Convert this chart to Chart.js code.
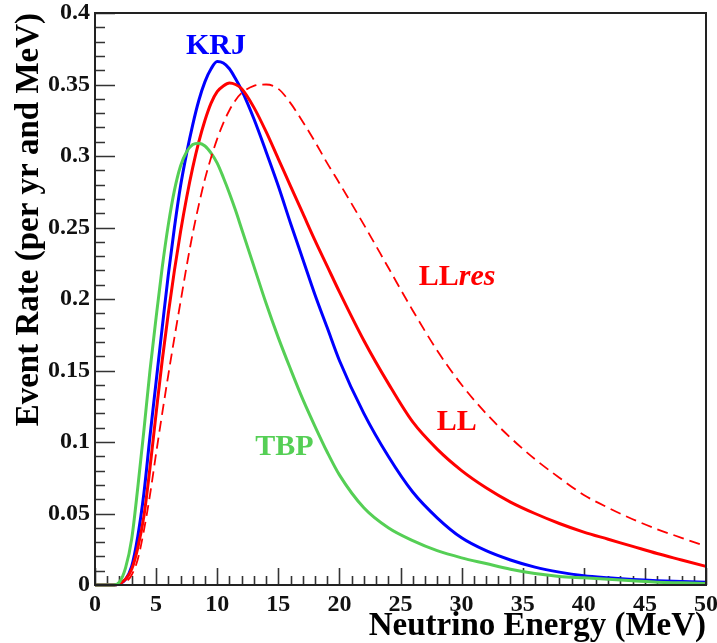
<!DOCTYPE html>
<html>
<head>
<meta charset="utf-8">
<script src="https://cdn.jsdelivr.net/npm/chart.js@4.4.0/dist/chart.umd.min.js"></script>
<style>
html, body { margin: 0; padding: 0; background: #fff; }
</style>
</head>
<body>
<canvas id="myChart" width="717" height="643"></canvas>
<script>
// energies (MeV) and event rates
const energy = [0, 1, 1.5, 2, 2.5, 3, 3.5, 4, 4.5, 5, 5.5, 6, 6.5, 7, 7.5, 8, 8.5, 9, 9.5, 10,
    10.5, 11, 11.5, 12, 13, 14, 15, 16, 17, 18, 19, 20, 22, 24, 26, 28, 30, 32, 34, 36, 38, 40,
    42, 44, 46, 48, 50];
const tbp = [0, 0, 0, 0.002, 0.012, 0.032, 0.068, 0.108, 0.15, 0.187, 0.222, 0.252, 0.276, 0.293,
    0.303, 0.308, 0.309, 0.307, 0.302, 0.295, 0.285, 0.274, 0.262, 0.249, 0.223, 0.197, 0.173, 0.151,
    0.13, 0.111, 0.093, 0.077, 0.054, 0.04, 0.031, 0.024, 0.019, 0.015, 0.011, 0.008, 0.006, 0.005,
    0.004, 0.003, 0.002, 0.0015, 0.001];
const krj = [0, 0, 0, 0.001, 0.004, 0.013, 0.034, 0.064, 0.104, 0.142, 0.18, 0.217, 0.25, 0.279,
    0.302, 0.322, 0.339, 0.352, 0.361, 0.366, 0.365, 0.361, 0.354, 0.346, 0.326, 0.303, 0.279, 0.253,
    0.228, 0.203, 0.18, 0.157, 0.12, 0.09, 0.065, 0.047, 0.033, 0.024, 0.0175, 0.0125, 0.009, 0.0065,
    0.005, 0.0038, 0.003, 0.0025, 0.002];
const ll = [0, 0, 0, 0.001, 0.004, 0.011, 0.026, 0.048, 0.082, 0.12, 0.157, 0.19, 0.22, 0.247,
    0.271, 0.292, 0.31, 0.325, 0.337, 0.345, 0.349, 0.351, 0.35, 0.347, 0.334, 0.317, 0.298, 0.279,
    0.26, 0.241, 0.223, 0.205, 0.171, 0.141, 0.114, 0.095, 0.08, 0.068, 0.058, 0.05, 0.043, 0.037,
    0.032, 0.027, 0.022, 0.0175, 0.013];
const llres = [0, 0, 0, 0, 0.002, 0.007, 0.018, 0.038, 0.063, 0.092, 0.12, 0.147, 0.173, 0.198,
    0.223, 0.246, 0.266, 0.284, 0.299, 0.312, 0.323, 0.332, 0.339, 0.344, 0.349, 0.35, 0.347, 0.337,
    0.324, 0.31, 0.295, 0.281, 0.252, 0.222, 0.192, 0.164, 0.14, 0.12, 0.103, 0.088, 0.075, 0.063,
    0.054, 0.046, 0.039, 0.033, 0.027];

const xTicks = [0, 5, 10, 15, 20, 25, 30, 35, 40, 45, 50];
const yTicks = [0, 0.05, 0.1, 0.15, 0.2, 0.25, 0.3, 0.35, 0.4];

function pts(values) {
    return energy.map(function (e, i) { return { x: e, y: values[i] } });
}

const green = "#55cf55";
const blue = "#0000ff";
const red = "#ff0000";
const serif = "'Liberation Serif', 'Times New Roman', serif";

// ROOT style frame with inward ticks
const rootFrame = {
    id: "rootFrame",
    beforeDatasetsDraw(chart) {
        const { ctx, chartArea: a, scales: { x, y } } = chart;
        ctx.save();
        ctx.strokeStyle = "#333";
        ctx.lineWidth = 1.6;
        ctx.beginPath();
        for (let i = 0; i <= 50; i++) {
            const px = Math.round(x.getPixelForValue(i)) + 0.5;
            const len = i % 5 === 0 ? 17 : 9;
            ctx.moveTo(px, a.bottom);
            ctx.lineTo(px, a.bottom - len);
        }
        for (let i = 0; i <= 40; i++) {
            const py = Math.round(y.getPixelForValue(i / 100)) + 0.5;
            const len = i % 5 === 0 ? 20 : 10;
            ctx.moveTo(a.left, py);
            ctx.lineTo(a.left + len, py);
        }
        ctx.stroke();
        ctx.restore();
    },
    afterDatasetsDraw(chart) {
        const { ctx, chartArea: a } = chart;
        ctx.save();
        ctx.strokeStyle = "#222";
        ctx.lineWidth = 2;
        ctx.strokeRect(a.left, a.top, a.right - a.left, a.bottom - a.top);
        ctx.restore();
    }
};

// curve names placed at data coordinates
const curveLabels = [
    { text: "KRJ", x: 9.9, y: 0.377, color: blue },
    { text: "LL", italic: "res", x: 26.5, y: 0.215, color: red, left: true },
    { text: "LL", x: 29.6, y: 0.114, color: red },
    { text: "TBP", x: 15.5, y: 0.096, color: green }
];
const labelPlugin = {
    id: "curveLabels",
    afterDatasetsDraw(chart) {
        const { ctx, scales: { x, y } } = chart;
        ctx.save();
        ctx.textBaseline = "middle";
        curveLabels.forEach(function (l) {
            const px = x.getPixelForValue(l.x);
            const py = y.getPixelForValue(l.y);
            ctx.fillStyle = l.color;
            ctx.font = "bold 30px " + serif;
            if (l.left) {
                ctx.textAlign = "left";
                ctx.fillText(l.text, px, py);
                const w = ctx.measureText(l.text).width;
                ctx.font = "italic bold 30px " + serif;
                ctx.fillText(l.italic, px + w, py);
            } else {
                ctx.textAlign = "center";
                ctx.fillText(l.text, px, py);
            }
        });
        ctx.restore();
    }
};

function line(label, values, color, width, dash) {
    return {
        label: label,
        data: pts(values),
        borderColor: color,
        borderWidth: width,
        borderDash: dash || [],
        pointRadius: 0,
        fill: false,
        cubicInterpolationMode: "monotone",
        clip: 4
    };
}

const config = {
    type: "line",
    data: {
        datasets: [
            line("LLres", llres, red, 1.8, [11, 6]),
            line("TBP", tbp, green, 3),
            line("LL", ll, red, 3),
            line("KRJ", krj, blue, 3)
        ]
    },
    options: {
        responsive: false,
        animation: false,
        devicePixelRatio: 1,
        layout: { padding: { top: 13, right: 11, left: 0, bottom: 0 } },
        plugins: {
            legend: { display: false },
            tooltip: { enabled: false }
        },
        scales: {
            x: {
                type: "linear",
                min: 0,
                max: 50,
                afterBuildTicks: function (s) { s.ticks = xTicks.map(function (v) { return { value: v } }) },
                afterFit: function (s) { s.height = 58; s.paddingLeft = 0; s.paddingRight = 0 },
                grid: { display: false, drawTicks: false },
                border: { display: false },
                ticks: {
                    padding: 5,
                    color: "#111",
                    font: { family: serif, size: 24, weight: "bold" },
                    maxRotation: 0,
                    autoSkip: false
                },
                title: {
                    display: true,
                    text: "Neutrino Energy (MeV)",
                    align: "end",
                    color: "#000",
                    font: { family: serif, size: 33, weight: "bold", lineHeight: 1 },
                    padding: { top: 0, bottom: 0 }
                }
            },
            y: {
                type: "linear",
                min: 0,
                max: 0.4,
                afterBuildTicks: function (s) { s.ticks = yTicks.map(function (v) { return { value: v } }) },
                afterFit: function (s) { s.width = 95; s.paddingTop = 0; s.paddingBottom = 0 },
                grid: { display: false, drawTicks: false },
                border: { display: false },
                ticks: {
                    padding: 5,
                    color: "#111",
                    font: { family: serif, size: 24, weight: "bold" },
                    callback: function (v) { return String(parseFloat(v.toFixed(2))) }
                },
                title: {
                    display: true,
                    text: "Event Rate (per yr and MeV)",
                    align: "end",
                    color: "#000",
                    font: { family: serif, size: 33, weight: "bold", lineHeight: 1 },
                    padding: { top: 13, bottom: 0 }
                }
            }
        }
    },
    plugins: [rootFrame, labelPlugin]
};

var myChart = new Chart(document.getElementById("myChart"), config);
</script>
</body>
</html>
